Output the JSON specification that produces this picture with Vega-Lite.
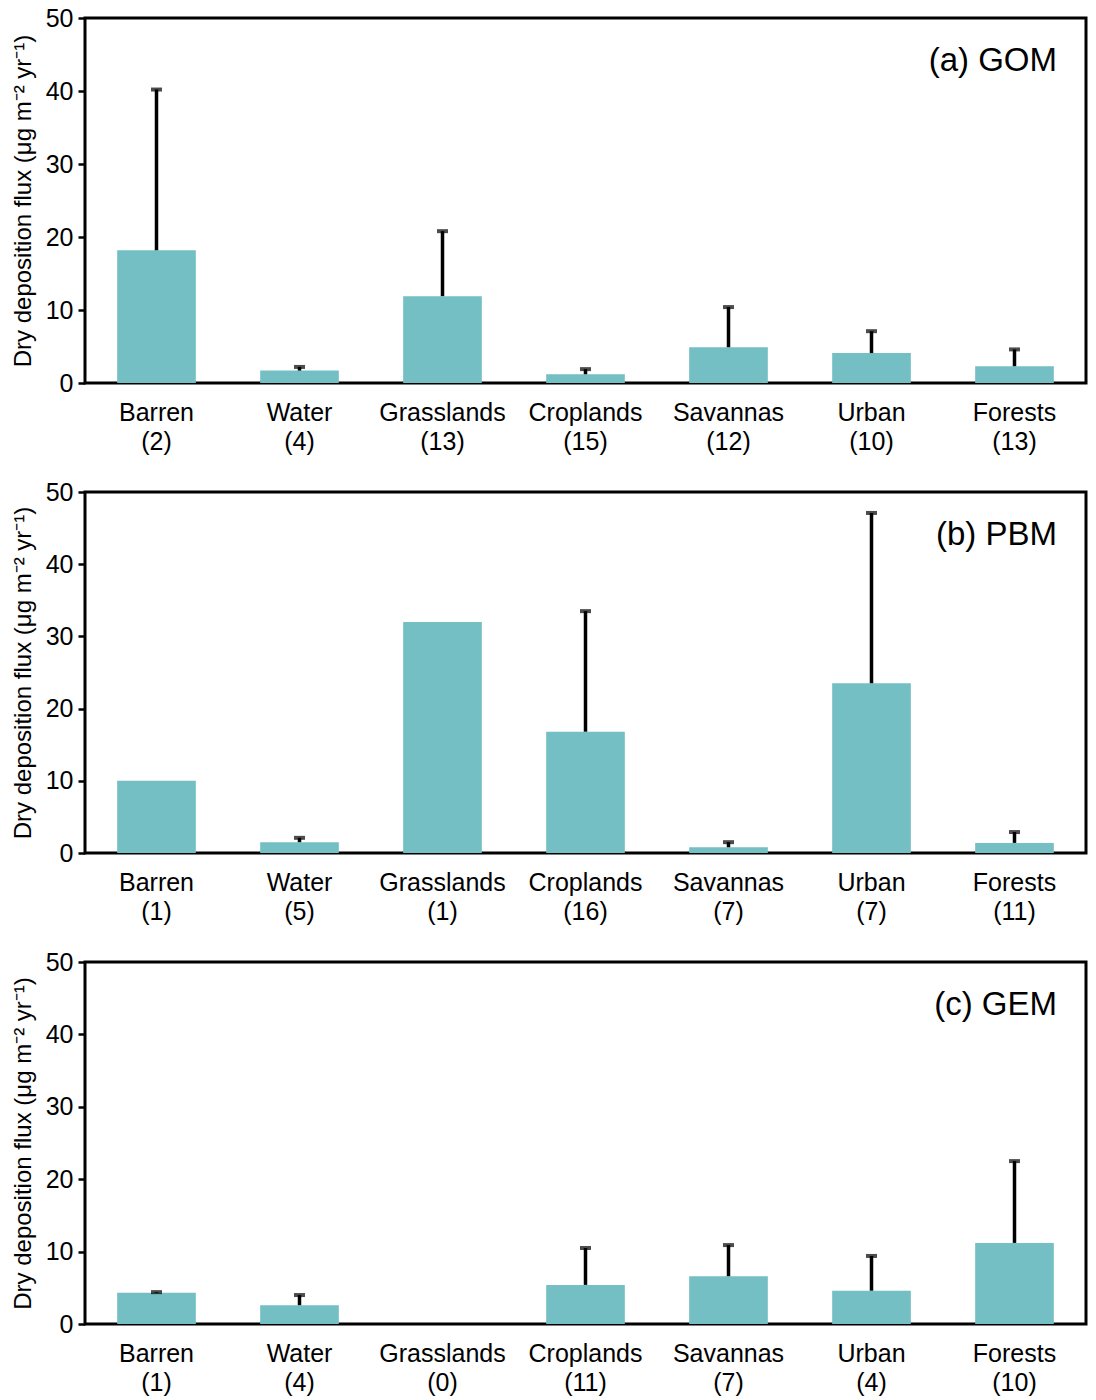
{
  "$schema": "https://vega.github.io/schema/vega-lite/v6.json",
  "background": "white",
  "padding": {"left": 9, "top": 4, "right": 2, "bottom": 2},
  "spacing": 22,
  "data": {"values": [
    {"panel": "a", "label": "Barren (2)", "mean": 18.2, "upper": 40.2},
    {"panel": "a", "label": "Water (4)", "mean": 1.7, "upper": 2.2},
    {"panel": "a", "label": "Grasslands (13)", "mean": 11.9, "upper": 20.8},
    {"panel": "a", "label": "Croplands (15)", "mean": 1.2, "upper": 1.9},
    {"panel": "a", "label": "Savannas (12)", "mean": 4.9, "upper": 10.4},
    {"panel": "a", "label": "Urban (10)", "mean": 4.1, "upper": 7.1},
    {"panel": "a", "label": "Forests (13)", "mean": 2.3, "upper": 4.6},
    {"panel": "b", "label": "Barren (1)", "mean": 10.0},
    {"panel": "b", "label": "Water (5)", "mean": 1.5, "upper": 2.1},
    {"panel": "b", "label": "Grasslands (1)", "mean": 32.0},
    {"panel": "b", "label": "Croplands (16)", "mean": 16.8, "upper": 33.5},
    {"panel": "b", "label": "Savannas (7)", "mean": 0.8, "upper": 1.5},
    {"panel": "b", "label": "Urban (7)", "mean": 23.5, "upper": 47.1},
    {"panel": "b", "label": "Forests (11)", "mean": 1.4, "upper": 2.9},
    {"panel": "c", "label": "Barren (1)", "mean": 4.3, "upper": 4.4},
    {"panel": "c", "label": "Water (4)", "mean": 2.6, "upper": 4.0},
    {"panel": "c", "label": "Grasslands (0)", "mean": 0},
    {"panel": "c", "label": "Croplands (11)", "mean": 5.4, "upper": 10.5},
    {"panel": "c", "label": "Savannas (7)", "mean": 6.6, "upper": 10.9},
    {"panel": "c", "label": "Urban (4)", "mean": 4.6, "upper": 9.4},
    {"panel": "c", "label": "Forests (10)", "mean": 11.2, "upper": 22.5}
  ]},
  "vconcat": [
    {
      "width": 1001, "height": 365,
      "title": {"text": "(a) GOM"},
      "transform": [{"filter": "datum.panel == 'a'"}],
      "encoding": {"x": {"field": "label", "type": "nominal", "sort": null, "scale": {"paddingInner": 0.45, "paddingOuter": 0.225}, "axis": {"title": null}}},
      "layer": [
        {"mark": {"type": "bar", "color": "#73BFC4"}, "encoding": {"y": {"field": "mean", "type": "quantitative", "scale": {"domain": [0, 50]}, "axis": {"title": "Dry deposition flux (μg m⁻² yr⁻¹)", "values": [0, 10, 20, 30, 40, 50]}}}},
        {"transform": [{"filter": "isValid(datum.upper)"}], "mark": {"type": "rule", "color": "black", "strokeWidth": 3.5}, "encoding": {"y": {"field": "mean", "type": "quantitative"}, "y2": {"field": "upper"}}},
        {"transform": [{"filter": "isValid(datum.upper)"}], "mark": {"type": "tick", "color": "black", "thickness": 4, "size": 11}, "encoding": {"y": {"field": "upper", "type": "quantitative"}}}
      ]
    },
    {
      "width": 1001, "height": 361,
      "title": {"text": "(b) PBM"},
      "transform": [{"filter": "datum.panel == 'b'"}],
      "encoding": {"x": {"field": "label", "type": "nominal", "sort": null, "scale": {"paddingInner": 0.45, "paddingOuter": 0.225}, "axis": {"title": null}}},
      "layer": [
        {"mark": {"type": "bar", "color": "#73BFC4"}, "encoding": {"y": {"field": "mean", "type": "quantitative", "scale": {"domain": [0, 50]}, "axis": {"title": "Dry deposition flux (μg m⁻² yr⁻¹)", "values": [0, 10, 20, 30, 40, 50]}}}},
        {"transform": [{"filter": "isValid(datum.upper)"}], "mark": {"type": "rule", "color": "black", "strokeWidth": 3.5}, "encoding": {"y": {"field": "mean", "type": "quantitative"}, "y2": {"field": "upper"}}},
        {"transform": [{"filter": "isValid(datum.upper)"}], "mark": {"type": "tick", "color": "black", "thickness": 4, "size": 11}, "encoding": {"y": {"field": "upper", "type": "quantitative"}}}
      ]
    },
    {
      "width": 1001, "height": 362,
      "title": {"text": "(c) GEM"},
      "transform": [{"filter": "datum.panel == 'c'"}],
      "encoding": {"x": {"field": "label", "type": "nominal", "sort": null, "scale": {"paddingInner": 0.45, "paddingOuter": 0.225}, "axis": {"title": null}}},
      "layer": [
        {"mark": {"type": "bar", "color": "#73BFC4"}, "encoding": {"y": {"field": "mean", "type": "quantitative", "scale": {"domain": [0, 50]}, "axis": {"title": "Dry deposition flux (μg m⁻² yr⁻¹)", "values": [0, 10, 20, 30, 40, 50]}}}},
        {"transform": [{"filter": "isValid(datum.upper)"}], "mark": {"type": "rule", "color": "black", "strokeWidth": 3.5}, "encoding": {"y": {"field": "mean", "type": "quantitative"}, "y2": {"field": "upper"}}},
        {"transform": [{"filter": "isValid(datum.upper)"}], "mark": {"type": "tick", "color": "black", "thickness": 4, "size": 11}, "encoding": {"y": {"field": "upper", "type": "quantitative"}}}
      ]
    }
  ],
  "config": {
    "font": "Liberation Sans",
    "view": {"stroke": "black", "strokeWidth": 3},
    "title": {"anchor": "end", "orient": "top", "offset": -72, "dx": -29, "fontSize": 33, "fontWeight": "normal", "color": "black", "font": "Liberation Sans"},
    "axisY": {"grid": false, "domain": false, "tickSize": 7, "tickWidth": 2.5, "tickColor": "black", "labelFontSize": 25, "labelColor": "black", "labelPadding": 5, "titleFontSize": 24, "titleFontWeight": "normal", "titleColor": "black", "titlePadding": 10, "labelFont": "Liberation Sans", "titleFont": "Liberation Sans"},
    "axisX": {"ticks": false, "domain": false, "grid": false, "labelAngle": 0, "labelFontSize": 25, "labelColor": "black", "labelPadding": 17, "labelLineHeight": 29, "labelExpr": "split(datum.label, ' ')", "labelFont": "Liberation Sans"}
  }
}
